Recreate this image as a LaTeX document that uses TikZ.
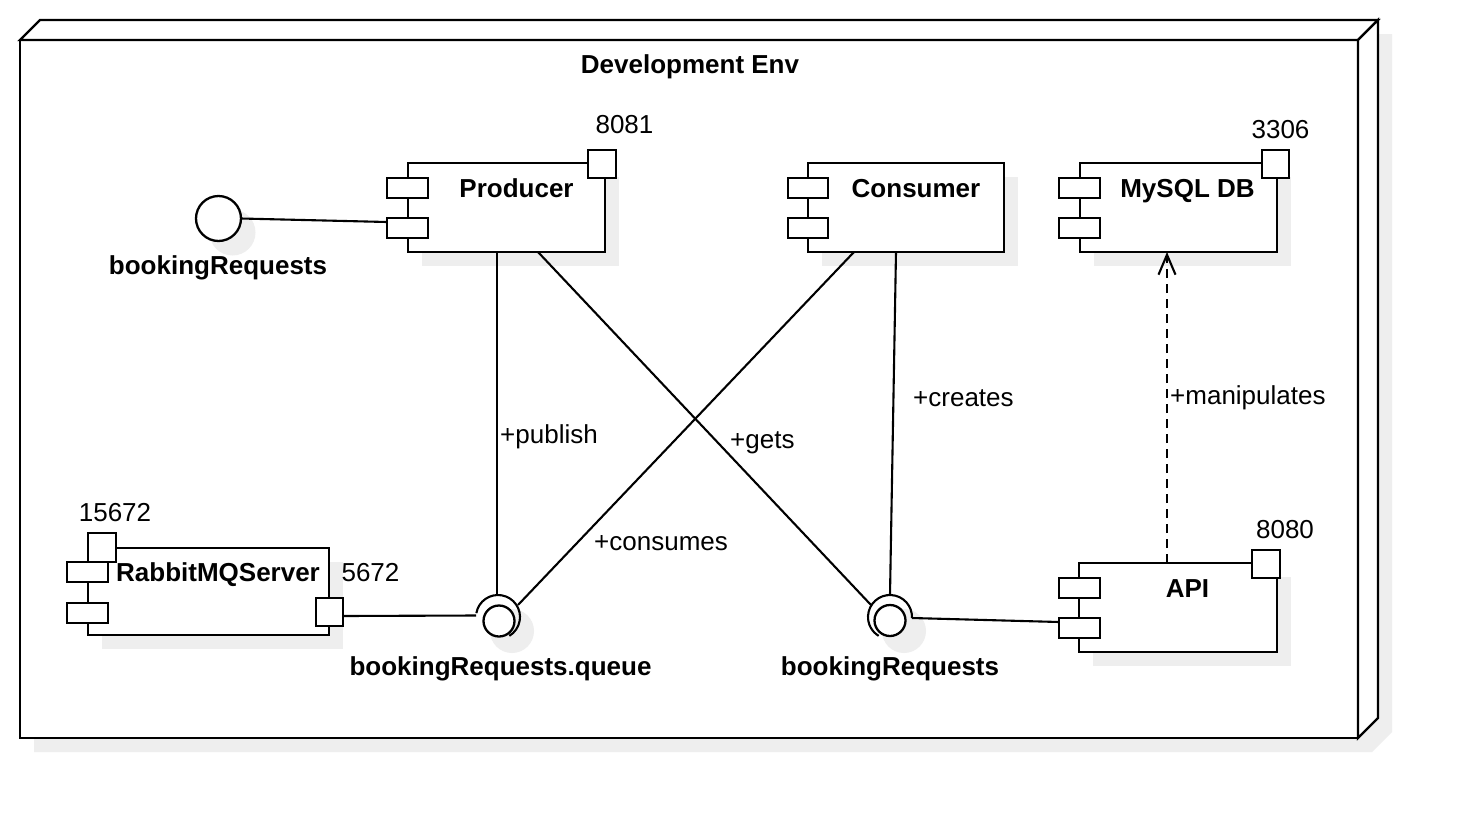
\documentclass[tikz,border=0pt]{standalone}
\usepackage{fontspec}
\setmainfont{Liberation Sans}
\usetikzlibrary{arrows.meta,calc}
\definecolor{shadowgray}{HTML}{EEEEEE}
\newcommand\rbox[6][]{\node[part,#1,minimum width={(#5)-(#3)},minimum height={(#6)-(#4)}] (#2) at ({((#3)+(#5))/2},{((#4)+(#6))/2}) {};}
\newcommand\rshadow[4]{\fill[shadowgray] ({(#1)+14},{(#2)+14}) rectangle ({(#3)+14},{(#4)+14});}
\begin{document}
\begin{tikzpicture}[x=1pt,y=-1pt,
  part/.style={draw, fill=white, line width=2.3pt, inner sep=0pt, outer sep=0pt},
  conn/.style={line width=2.1pt},
  lbl/.style={inner sep=0pt, font=\fontsize{26}{31}\selectfont},
  cname/.style={inner sep=0pt, font=\fontsize{26}{31}\selectfont\bfseries},
]
\useasboundingbox (0,0) rectangle (1460,820);
\fill[white] (0,0) rectangle (1460,820);

% ---- node (3D box) ----
\fill[shadowgray] (54,34) -- (1392,34) -- (1392,732) -- (1372,752) -- (34,752) -- (34,54) -- cycle;
\rbox{env}{20}{40}{1358}{738}
\draw[part] (env.north west) -- ++(20,-20) -- (1378,20) -- (env.north east) -- cycle;
\draw[part] (env.north east) -- (1378,20) -- (1378,718) -- (env.south east) -- cycle;
\node[cname, anchor=base] (envL) at (690,73) {Development Env};

% ---- shadows ----
\rshadow{408}{163}{605}{252}
\rshadow{808}{163}{1004}{252}
\rshadow{1080}{163}{1277}{252}
\rshadow{1079}{563}{1277}{652}
\rshadow{88}{548}{329}{635}
\fill[shadowgray] (232.5,232.5) circle[radius=23];
\fill[shadowgray] (512,631) circle[radius=22];
\fill[shadowgray] (904,631) circle[radius=22];

% ---- Producer ----
\rbox{prod}{408}{163}{605}{252}
\rbox{prodA}{387}{178}{428}{198}
\rbox{prodB}{387}{218}{428}{238}
\rbox{prodP}{588}{150}{616}{178}
\node[cname, anchor=base] (prodL) at (516.5,197) {Producer};
\node[lbl, anchor=base] (prodN) at (624.5,133) {8081};

% ---- Consumer ----
\rbox{cons}{808}{163}{1004}{252}
\rbox{consA}{788}{178}{828}{198}
\rbox{consB}{788}{218}{828}{238}
\node[cname, anchor=base] (consL) at (916,197) {Consumer};

% ---- MySQL DB ----
\rbox{db}{1080}{163}{1277}{252}
\rbox{dbA}{1059}{178}{1100}{198}
\rbox{dbB}{1059}{218}{1100}{238}
\rbox{dbP}{1262}{150}{1289}{178}
\node[cname, anchor=base] (dbL) at (1187.5,197) {MySQL DB};
\node[lbl, anchor=base] (dbN) at (1280.5,138) {3306};

% ---- API ----
\rbox{api}{1079}{563}{1277}{652}
\rbox{apiA}{1059}{578}{1100}{598}
\rbox{apiB}{1059}{618}{1100}{638}
\rbox{apiP}{1252}{550}{1280}{578}
\node[cname, anchor=base] (apiL) at (1187.5,597) {API};
\node[lbl, anchor=base] (apiN) at (1285,538) {8080};

% ---- RabbitMQServer ----
\rbox{rmq}{88}{548}{329}{635}
\rbox{rmqA}{67}{562}{108}{582}
\rbox{rmqB}{67}{603}{108}{623}
\rbox{rmqP}{88}{533}{116}{562}
\rbox{rmqQ}{316}{598}{343}{626}
\node[cname, anchor=base] (rmqL) at (218,581) {RabbitMQServer};
\node[lbl, anchor=base] (rmqN) at (115,521.5) {15672};
\node[lbl, anchor=base] (rmqM) at (370.5,581.5) {5672};

% ---- interfaces ----
\node[part, circle, minimum size=45] (ifl) at (218.5,218.5) {};
\node[cname, anchor=base] (iflL) at (218,274) {bookingRequests};

\coordinate (qc) at (498,617);
\coordinate (rc) at (890,617);
\node[cname, anchor=base] (qL) at (500.5,675) {bookingRequests.queue};
\node[cname, anchor=base] (rL) at (890,675) {bookingRequests};

% ---- connector end points ----
\coordinate (prodS1) at ($(prod.south west)+(89,0)$);
\coordinate (prodS2) at ($(prod.south west)+(130,0)$);
\coordinate (consS1) at ($(cons.south west)+(46,0)$);
\coordinate (consS2) at ($(cons.south west)+(88,0)$);
\coordinate (qTop) at (497,595);
\coordinate (qRight) at (518,605);
\coordinate (qLeft) at (476,615.5);
\coordinate (rTop) at (890,595);
\coordinate (rLeft) at (871,605);
\coordinate (rRight) at (912,618);
\coordinate (rmqOut) at ($(rmqQ.east)+(0,4)$);
\coordinate (apiIn) at ($(apiB.west)+(0,-6)$);
\coordinate (prodIn) at ($(prodB.north west)+(0,4)$);
\coordinate (apiTop) at (1167,563);
\coordinate (dbBot) at (1167,252);

% ---- connectors ----
\draw[conn] (ifl.east) -- (prodIn);
\draw[conn] (prodS1) -- (qTop);
\draw[conn] (prodS2) -- (rLeft);
\draw[conn] (consS1) -- (qRight);
\draw[conn] (consS2) -- (rTop);
\draw[conn] (rmqOut) -- (qLeft);
\draw[conn] (rRight) -- (apiIn);
\draw[conn, dash pattern=on 9pt off 6pt, -{Straight Barb[length=20pt,width=17pt]}] (apiTop) -- (dbBot);

% ---- sockets ----
\draw[conn] ($(qc)+(-170:22)$) arc[start angle=-170, end angle=59, radius=22];
\node[part, circle, minimum size=31] (qin) at (499,621) {};
\draw[conn] ($(rc)+(3:22)$) arc[start angle=3, end angle=-239, radius=22];
\node[part, circle, minimum size=31] (rin) at (890,620.5) {};

% ---- connector labels ----
\node[lbl, anchor=base west] (lPub) at (500,443) {+publish};
\node[lbl, anchor=base west] (lGets) at (730,448) {+gets};
\node[lbl, anchor=base west] (lCons) at (594,550) {+consumes};
\node[lbl, anchor=base west] (lCre) at (913,406) {+creates};
\node[lbl, anchor=base west] (lMan) at (1170,404) {+manipulates};
\end{tikzpicture}
\end{document}
